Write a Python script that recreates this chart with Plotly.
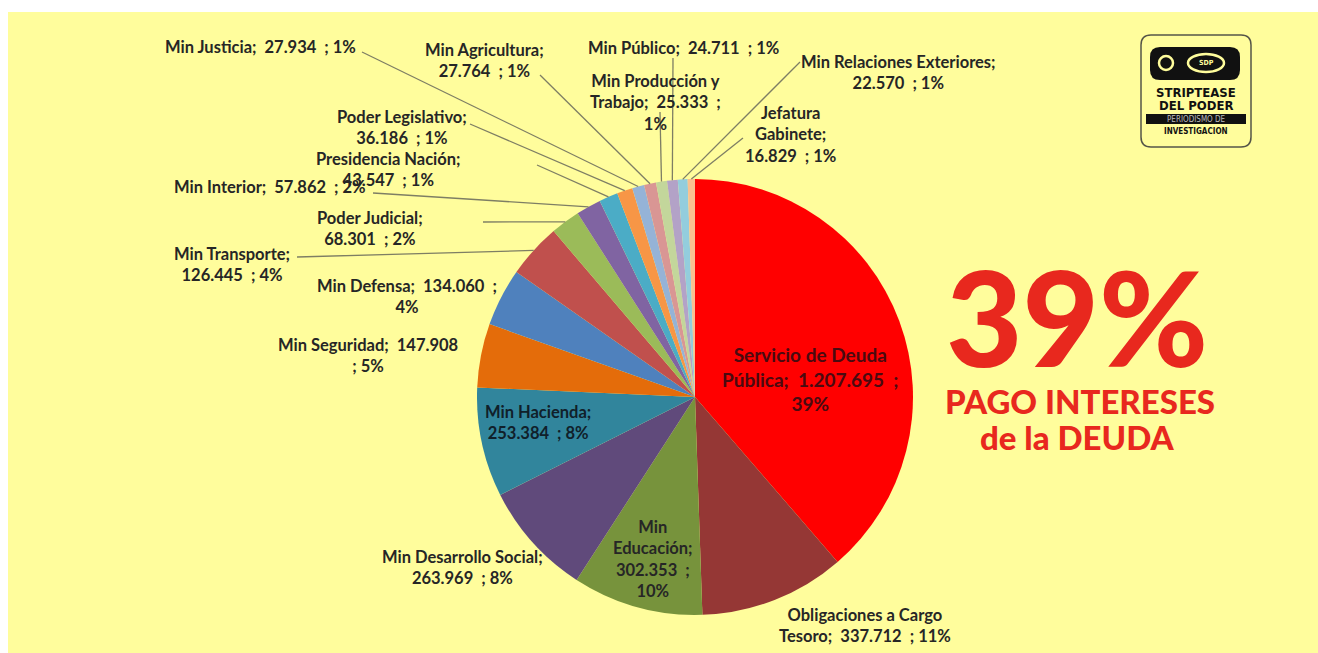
import math
import plotly.graph_objects as go

W, H = 1318, 653

# ---------------- data ----------------
categories = [
    "Servicio de Deuda Pública", "Obligaciones a Cargo Tesoro", "Min Educación",
    "Min Desarrollo Social", "Min Hacienda", "Min Seguridad", "Min Defensa",
    "Min Transporte", "Poder Judicial", "Min Interior", "Presidencia Nación",
    "Poder Legislativo", "Min Justicia", "Min Agricultura",
    "Min Producción y Trabajo", "Min Público", "Min Relaciones Exteriores",
    "Jefatura Gabinete",
]
values = [
    1207695, 337712, 302353, 263969, 253384, 147908, 134060, 126445, 68301,
    57862, 43547, 36186, 27934, 27764, 25333, 24711, 22570, 16829,
]
colors = [
    "#FF0000", "#953735", "#77933C", "#604A7B", "#31859C", "#E46C0A",
    "#4F81BD", "#C0504D", "#9BBB59", "#8064A2", "#4BACC6", "#F79646",
    "#95B3D7", "#D99694", "#C3D69B", "#B3A2C7", "#93CDDD", "#FAC090",
]
S = "\u00a0 "  # double space
# label templates ({v}=value, {p}=percent)
label_tpl = [
    "Servicio de Deuda<br>Pública;" + S + "{v}" + S + ";<br>{p}%",
    "Obligaciones a Cargo<br>Tesoro;" + S + "{v}" + S + "; {p}%",
    "Min<br>Educación;<br>{v}" + S + ";<br>{p}%",
    "Min Desarrollo Social;<br>{v}" + S + "; {p}%",
    "Min Hacienda;<br>{v}" + S + "; {p}%",
    "Min Seguridad;" + S + "{v}<br>; {p}%",
    "Min Defensa;" + S + "{v}" + S + ";<br>{p}%",
    "Min Transporte;<br>{v}" + S + "; {p}%",
    "Poder Judicial;<br>{v}" + S + "; {p}%",
    "Min Interior;" + S + "{v}" + S + "; {p}%",
    "Presidencia Nación;<br>{v}" + S + "; {p}%",
    "Poder Legislativo;<br>{v}" + S + "; {p}%",
    "Min Justicia;" + S + "{v}" + S + "; {p}%",
    "Min Agricultura;<br>{v}" + S + "; {p}%",
    "Min Producción y<br>Trabajo;" + S + "{v}" + S + ";<br>{p}%",
    "Min Público;" + S + "{v}" + S + "; {p}%",
    "Min Relaciones Exteriores;<br>{v}" + S + "; {p}%",
    "Jefatura<br>Gabinete;<br>{v}" + S + "; {p}%",
]
headline = "39%"
sub1 = "PAGO INTERESES"
sub2 = "de la DEUDA"

# ---------------- layout params (pixels) ----------------
CX, CY, R = 695, 397, 218
label_pos = [
    (810, 379), (865, 625), (653, 559), (462, 567), (538, 422), (368, 356),
    (407, 297), (232, 265), (370, 229), (270, 187), (388, 170), (402, 128),
    (260, 47), (484, 60), (655, 102), (683, 48), (898, 72), (790, 134),
]
label_sizes = [19] + [16.5] * 17
label_colors = ["#4A0A10"] + ["#262626"] * 3 + ["#10202A"] + ["#262626"] * 13
# leader line label-side ends (None = no leader)
leader_end = [
    None, None, None, None, None, None, None, (297, 257), (483, 222),
    (373, 193), (537, 165), (470, 124), (362, 52), (540, 75), (660, 112),
    (673, 58), (800, 62), (743, 138),
]


def px(x):
    return x / W


def py(y):
    return 1 - y / H


def fmt(v):
    return f"{v:,}".replace(",", ".")


total = sum(values)

fig = go.Figure()
fig.add_trace(go.Pie(
    labels=categories, values=values, sort=False, direction="clockwise",
    rotation=0, marker=dict(colors=colors, line=dict(width=0)),
    textinfo="none", hoverinfo="none", showlegend=False,
    domain=dict(x=[px(CX - R), px(CX + R)], y=[py(CY + R), py(CY - R)]),
))

shapes = [
    dict(type="rect", xref="paper", yref="paper", x0=px(8), x1=1, y0=0,
         y1=py(12), fillcolor="#FFFD9C", line=dict(width=0), layer="below"),
]
annotations = []


def txt_ann(x, y, text, font):
    return dict(x=px(x), y=py(y), xref="paper", yref="paper", text=text,
                showarrow=False, xanchor="center", yanchor="middle",
                align="center", font=font)


cum = 0
for i, v in enumerate(values):
    frac_mid = (cum + v / 2) / total
    cum += v
    pct = round(v / total * 100)
    txt = label_tpl[i].format(v=fmt(v), p=pct)
    lx, ly = label_pos[i]
    annotations.append(txt_ann(lx, ly, txt, dict(
        family="Lato", size=label_sizes[i], weight="bold", color=label_colors[i])))
    if leader_end[i] is not None:
        th = 2 * math.pi * frac_mid
        ex = CX + R * math.sin(th)
        ey = CY - R * math.cos(th)
        sx, sy = leader_end[i]
        shapes.append(dict(
            type="line", xref="paper", yref="paper", x0=px(sx), y0=py(sy),
            x1=px(ex), y1=py(ey), line=dict(color="#7E7E64", width=1.3),
        ))

# headline texts
RED = "#E8281E"
annotations += [
    txt_ann(1077, 316, headline, dict(family="Lato", size=132, color=RED, weight=900)),
    txt_ann(1080, 401, sub1, dict(family="Lato", size=33, color=RED, weight=900)),
    txt_ann(1077, 437, sub2, dict(family="Lato", size=33, color=RED, weight=900)),
]


# logo
def rrect(x0, y0, x1, y1, r):
    X0, X1 = px(x0), px(x1)
    Y0, Y1 = py(y0), py(y1)
    rx, ry = r / W, r / H
    return (f"M{X0+rx},{Y0} L{X1-rx},{Y0} Q{X1},{Y0} {X1},{Y0-ry} "
            f"L{X1},{Y1+ry} Q{X1},{Y1} {X1-rx},{Y1} L{X0+rx},{Y1} "
            f"Q{X0},{Y1} {X0},{Y1+ry} L{X0},{Y0-ry} Q{X0},{Y0} {X0+rx},{Y0} Z")


shapes += [
    dict(type="path", xref="paper", yref="paper", path=rrect(1141, 35, 1251, 147, 10),
         line=dict(color="#555548", width=1.5), fillcolor="rgba(0,0,0,0)"),
    dict(type="path", xref="paper", yref="paper", path=rrect(1150, 47, 1240, 80, 10),
         line=dict(width=0), fillcolor="#111111"),
    dict(type="circle", xref="paper", yref="paper", x0=px(1159), x1=px(1173),
         y0=py(70), y1=py(56), line=dict(color="#FFFD9C", width=2.5),
         fillcolor="#111111"),
    dict(type="circle", xref="paper", yref="paper", x0=px(1188), x1=px(1224),
         y0=py(72), y1=py(54), line=dict(color="#FFFD9C", width=2.5),
         fillcolor="#111111"),
    dict(type="rect", xref="paper", yref="paper", x0=px(1146), x1=px(1246),
         y0=py(124), y1=py(114), line=dict(width=0), fillcolor="#111111"),
]
LG = "DejaVu Sans Condensed"
annotations += [
    txt_ann(1196, 92, "STRIPTEASE", dict(family=LG, size=13, color="#111111", weight="bold")),
    txt_ann(1196, 105, "DEL PODER", dict(family=LG, size=13, color="#111111", weight="bold")),
    txt_ann(1196, 119, "PERIODISMO DE", dict(family=LG, size=8, color="#BBBBBB")),
    txt_ann(1196, 131, "INVESTIGACION", dict(family=LG, size=8, color="#111111", weight="bold")),
    txt_ann(1206, 63, "SDP", dict(family=LG, size=7, color="#FFFD9C", weight="bold")),
]

fig.update_layout(
    width=W, height=H, margin=dict(l=0, r=0, t=0, b=0),
    paper_bgcolor="#FFFFFF", plot_bgcolor="#FFFFFF",
    shapes=shapes, annotations=annotations, showlegend=False,
)
fig.write_html("out.html")
